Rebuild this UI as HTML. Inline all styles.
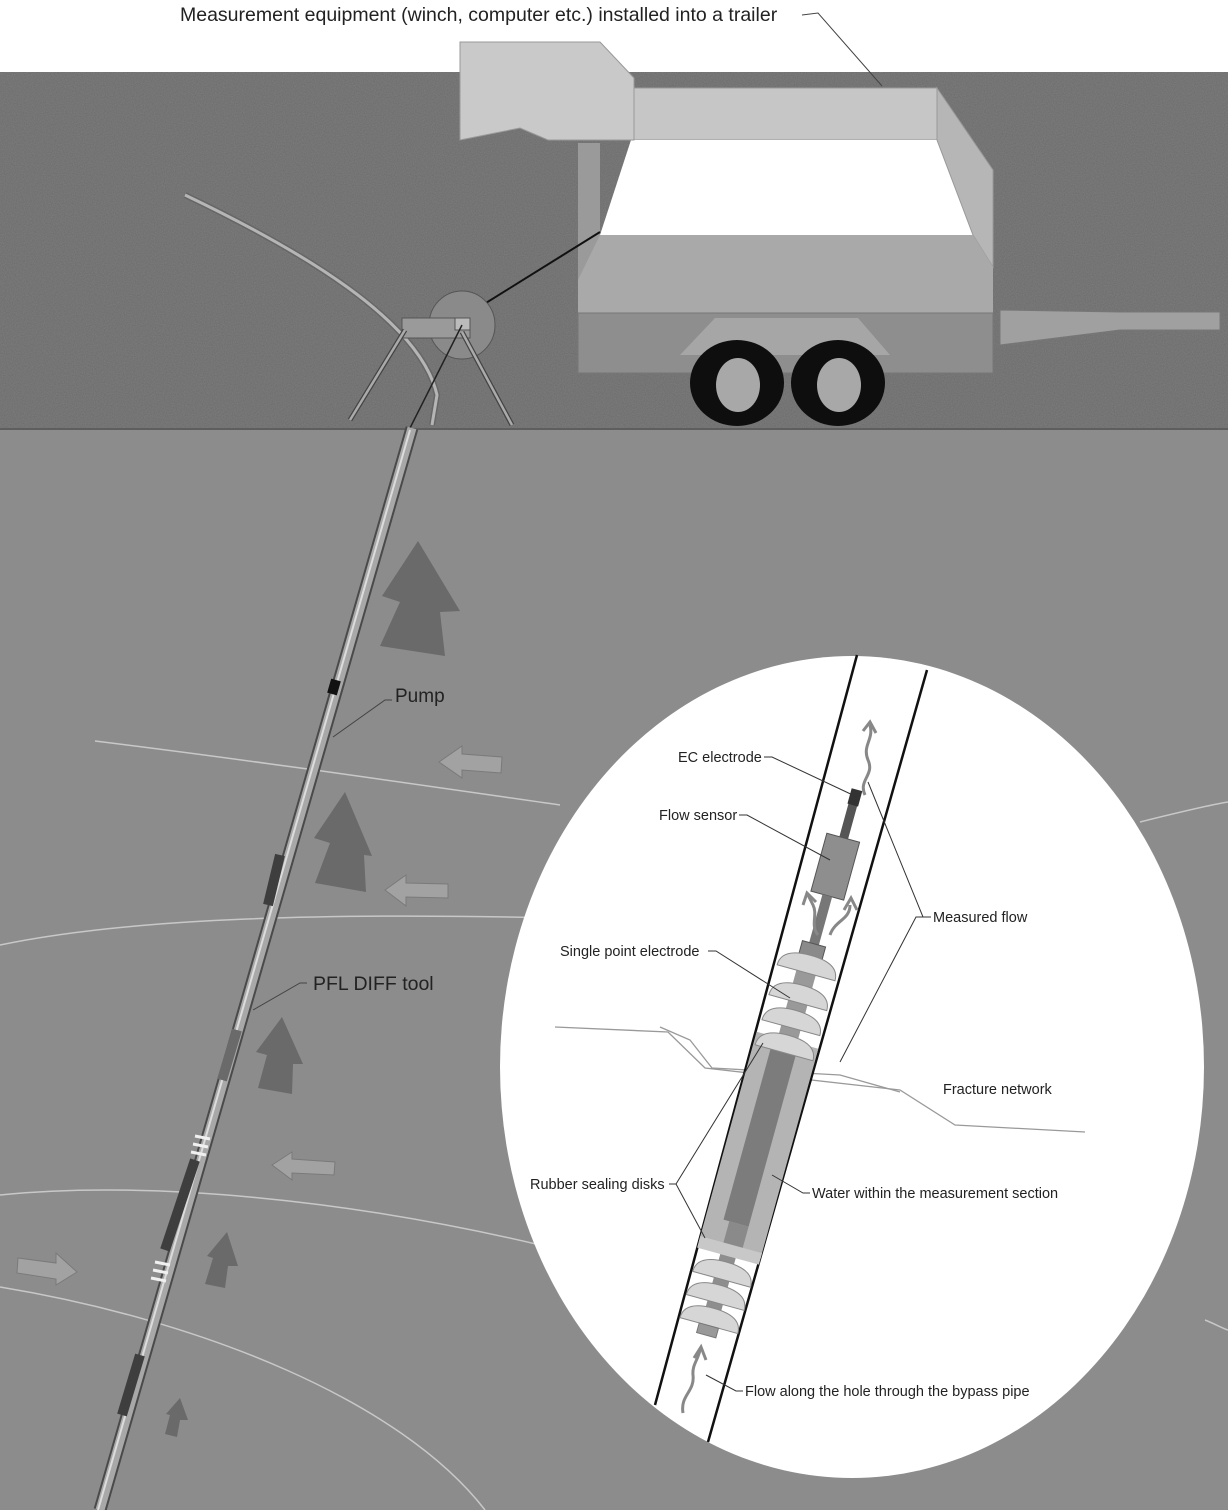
<!DOCTYPE html>
<html><head><meta charset="utf-8"><style>
html,body{margin:0;padding:0;background:#fff}
svg{display:block}
text{font-family:"Liberation Sans",sans-serif;fill:#222}
</style></head><body>
<svg width="1228" height="1510" viewBox="0 0 1228 1510" xmlns="http://www.w3.org/2000/svg">
<defs>
<filter id="n" x="0" y="0" width="100%" height="100%">
<feTurbulence type="fractalNoise" baseFrequency="0.9" numOctaves="2" seed="3"/>
<feColorMatrix type="matrix" values="0 0 0 0 0.38  0 0 0 0 0.38  0 0 0 0 0.38  0 0 0 -1.2 1.1"/>
</filter>
</defs>
<rect x="0" y="0" width="1228" height="72" fill="#fff"/>
<rect x="0" y="72" width="1228" height="357" fill="#6c6c6c"/>
<rect x="0" y="72" width="1228" height="357" filter="url(#n)" opacity="0.3"/>
<rect x="0" y="429" width="1228" height="1081" fill="#8c8c8c"/>
<line x1="0" y1="429" x2="1228" y2="429" stroke="#5e5e5e" stroke-width="2"/>

<!-- top label -->
<text x="180" y="21" font-size="19.5">Measurement equipment (winch, computer etc.) installed into a trailer</text>
<polyline points="802,15 818,13 882,86" fill="none" stroke="#444" stroke-width="1"/>

<!-- trailer -->
<polygon points="1000,310 1120,312 1220,312 1220,330 1120,330 1000,345" fill="#a0a0a0" stroke="#777"/>
<polygon points="578,143 600,143 600,313 578,313" fill="#9a9a9a"/>
<polygon points="634,88 937,88 937,140 634,140" fill="#c6c6c6" stroke="#999"/>
<polygon points="631,140 937,140 973,235 600,235" fill="#ffffff"/>
<polygon points="937,88 993,170 993,267 973,235 937,140" fill="#b6b6b6" stroke="#999"/>
<polygon points="600,235 973,235 993,267 993,313 578,313 578,280" fill="#a9a9a9"/>
<rect x="578" y="313" width="415" height="60" fill="#8e8e8e" stroke="#777"/>
<polygon points="460,42 600,42 634,78 634,140 548,140 520,128 460,140" fill="#c9c9c9" stroke="#999"/>
<polygon points="715,318 858,318 890,355 680,355" fill="#a6a6a6"/>
<ellipse cx="737" cy="383" rx="47" ry="43" fill="#0e0e0e"/>
<ellipse cx="838" cy="383" rx="47" ry="43" fill="#0e0e0e"/>
<ellipse cx="738" cy="385" rx="22" ry="27" fill="#a8a8a8"/>
<ellipse cx="839" cy="385" rx="22" ry="27" fill="#a8a8a8"/>

<!-- winch and cable -->
<line x1="600" y1="232" x2="465" y2="316" stroke="#111" stroke-width="2"/>
<ellipse cx="462" cy="325" rx="33" ry="34" fill="#8a8a8a" stroke="#555"/>
<path d="M185,195 C300,250 420,320 437,395 L432,425" fill="none" stroke="#666" stroke-width="6"/>
<path d="M185,195 C300,250 420,320 437,395 L432,425" fill="none" stroke="#b5b5b5" stroke-width="3"/>
<rect x="402" y="318" width="68" height="20" fill="#9a9a9a" stroke="#555"/>
<rect x="455" y="318" width="15" height="12" fill="#bbb" stroke="#555"/>
<g stroke="#444" stroke-width="5" fill="none"><line x1="405" y1="330" x2="350" y2="420"/><line x1="462" y1="332" x2="512" y2="425"/></g>
<g stroke="#aaa" stroke-width="2.5" fill="none"><line x1="405" y1="330" x2="350" y2="420"/><line x1="462" y1="332" x2="512" y2="425"/></g>
<line x1="462" y1="325" x2="410" y2="428" stroke="#222" stroke-width="1.5"/>

<!-- fracture lines -->
<g fill="none" stroke="#c8c8c8" stroke-width="1.5">
<path d="M95,741 C250,760 420,785 560,805"/>
<path d="M0,945 C120,920 300,912 560,918"/>
<path d="M0,1195 C150,1180 350,1200 540,1245"/>
<path d="M0,1287 C200,1320 400,1400 485,1510"/>
<path d="M1140,822 C1180,812 1210,805 1228,802"/>
<path d="M1205,1320 C1215,1324 1222,1328 1228,1330"/>
</g>

<!-- borehole tool -->
<line x1="412" y1="428" x2="100" y2="1510" stroke="#4a4a4a" stroke-width="13"/>
<line x1="412" y1="428" x2="100" y2="1510" stroke="#a8a8a8" stroke-width="9"/>
<line x1="410" y1="430" x2="98" y2="1510" stroke="#dcdcdc" stroke-width="2"/>
<g stroke="#3e3e3e" stroke-width="10">
<line x1="336" y1="680" x2="332" y2="694" stroke="#111"/>
<line x1="280" y1="855" x2="268" y2="905"/>
<line x1="195" y1="1160" x2="165" y2="1250"/>
<line x1="140" y1="1355" x2="122" y2="1415"/>
<line x1="237" y1="1030" x2="222" y2="1080" stroke="#6a6a6a"/>
</g>
<g stroke="#f0f0f0" stroke-width="3">
<line x1="195" y1="1136" x2="210" y2="1139"/><line x1="193" y1="1144" x2="208" y2="1147"/><line x1="191" y1="1152" x2="206" y2="1155"/>
<line x1="155" y1="1262" x2="170" y2="1265"/><line x1="153" y1="1270" x2="168" y2="1273"/><line x1="151" y1="1278" x2="166" y2="1281"/>
</g>
<text x="395" y="702" font-size="19">Pump</text>
<polyline points="333,737 385,700 392,700" fill="none" stroke="#444"/>
<text x="313" y="990" font-size="19.5">PFL DIFF tool</text>
<polyline points="253,1010 300,983 307,983" fill="none" stroke="#444"/>

<!-- up arrows -->
<g fill="#6a6a6a">
<polygon points="380,646 445,656 440,612 460,611 418,541 382,596 400,602"/>
<polygon points="315,883 366,892 364,855 372,856 345,792 314,838 330,843"/>
<polygon points="258,1088 292,1094 293,1064 303,1064 282,1017 256,1052 267,1055"/>
<polygon points="205,1284 225,1288 228,1266 238,1266 227,1232 207,1256 213,1258"/>
<polygon points="165,1434 177,1437 180,1420 188,1420 180,1398 166,1414 170,1415"/>
</g>
<g fill="#a2a2a2" stroke="#7a7a7a">
<polygon points="439,762 462,746 462,754 502,757 501,773 462,770 462,778"/>
<polygon points="385,890 406,875 406,883 448,884 448,898 406,897 406,906"/>
<polygon points="272,1165 292,1152 292,1159 335,1162 334,1175 292,1173 292,1180"/>
<polygon points="77,1272 56,1285 56,1279 17,1273 18,1258 56,1263 56,1253"/>
</g>

<!-- detail ellipse -->
<ellipse cx="852" cy="1067" rx="352" ry="411" fill="#fff"/>
<g fill="none" stroke="#999" stroke-width="1.3">
<polyline points="555,1027 668,1032 705,1068 900,1090 955,1125 1085,1132"/>
<polyline points="660,1027 690,1040 712,1068 840,1075 900,1092"/>
</g>
<line x1="857" y1="655" x2="655" y2="1405" stroke="#111" stroke-width="2.5"/>
<line x1="927" y1="670" x2="708" y2="1442" stroke="#111" stroke-width="2.5"/>

<g transform="translate(771,1100) rotate(15.4)">
<rect x="-32" y="-62" width="64" height="218" fill="#b4b4b4"/>
<rect x="-14" y="-62" width="26" height="190" fill="#7c7c7c"/>
<rect x="-8" y="128" width="20" height="28" fill="#8a8a8a"/>
<rect x="-32" y="150" width="64" height="12" fill="#c8c8c8"/>
<rect x="-4" y="-320" width="9" height="60" fill="#555"/>
<rect x="-5" y="-322" width="11" height="16" fill="#333"/>
<rect x="-17" y="-272" width="34" height="60" fill="#8e8e8e" stroke="#555"/>
<rect x="-5" y="-212" width="10" height="55" fill="#777"/>
<rect x="-12" y="-162" width="24" height="18" fill="#8a8a8a" stroke="#555"/>
<rect x="-10" y="-145" width="20" height="85" fill="#999"/>
<g fill="#d6d6d6" stroke="#888">
<path d="M-30,-132 Q-30,-150 0,-150 Q30,-150 30,-132 Z"/>
<path d="M-30,-101 Q-30,-119 0,-119 Q30,-119 30,-101 Z"/>
<path d="M-30,-75 Q-30,-93 0,-93 Q30,-93 30,-75 Z"/>
<path d="M-30,-49 Q-30,-67 0,-67 Q30,-67 30,-49 Z"/>
</g>
<rect x="-8" y="162" width="16" height="72" fill="#8e8e8e"/>
<g fill="#d6d6d6" stroke="#888">
<path d="M-30,186 Q-30,168 0,168 Q30,168 30,186 Z"/>
<path d="M-30,210 Q-30,192 0,192 Q30,192 30,210 Z"/>
<path d="M-30,234 Q-30,216 0,216 Q30,216 30,234 Z"/>
</g>
<rect x="-10" y="234" width="20" height="10" fill="#999" stroke="#777"/>
</g>
<g fill="none" stroke="#888" stroke-width="3">
<path d="M865,795 C858,780 875,775 868,760 C862,745 874,740 870,725"/>
<path d="M863,731 L870,722 L876,733"/>
<path d="M818,935 C810,925 818,915 813,905 L808,895"/>
<path d="M803,905 L807,893 L816,902"/>
<path d="M830,935 C835,920 850,920 850,905"/>
<path d="M844,910 L851,898 L857,910"/>
<path d="M683,1413 C680,1395 695,1392 693,1375 C692,1365 698,1360 700,1350"/>
<path d="M694,1358 L701,1347 L706,1360"/>
</g>

<g font-size="14.5">
<text x="678" y="762">EC electrode</text>
<text x="659" y="820">Flow sensor</text>
<text x="560" y="956">Single point electrode</text>
<text x="933" y="922">Measured flow</text>
<text x="943" y="1094">Fracture network</text>
<text x="530" y="1189">Rubber sealing disks</text>
<text x="812" y="1198">Water within the measurement section</text>
<text x="745" y="1396">Flow along the hole through the bypass pipe</text>
</g>
<g fill="none" stroke="#333" stroke-width="1">
<polyline points="764,757 772,757 857,797"/>
<polyline points="739,815 747,815 830,860"/>
<polyline points="708,951 716,951 790,998"/>
<polyline points="931,917 923,917 868,782"/>
<polyline points="923,917 916,917 840,1062"/>
<polyline points="669,1184 676,1184 763,1043"/>
<polyline points="676,1184 705,1238"/>
<polyline points="810,1193 803,1193 772,1175"/>
<polyline points="743,1391 736,1391 706,1375"/>
</g>
</svg>
</body></html>
